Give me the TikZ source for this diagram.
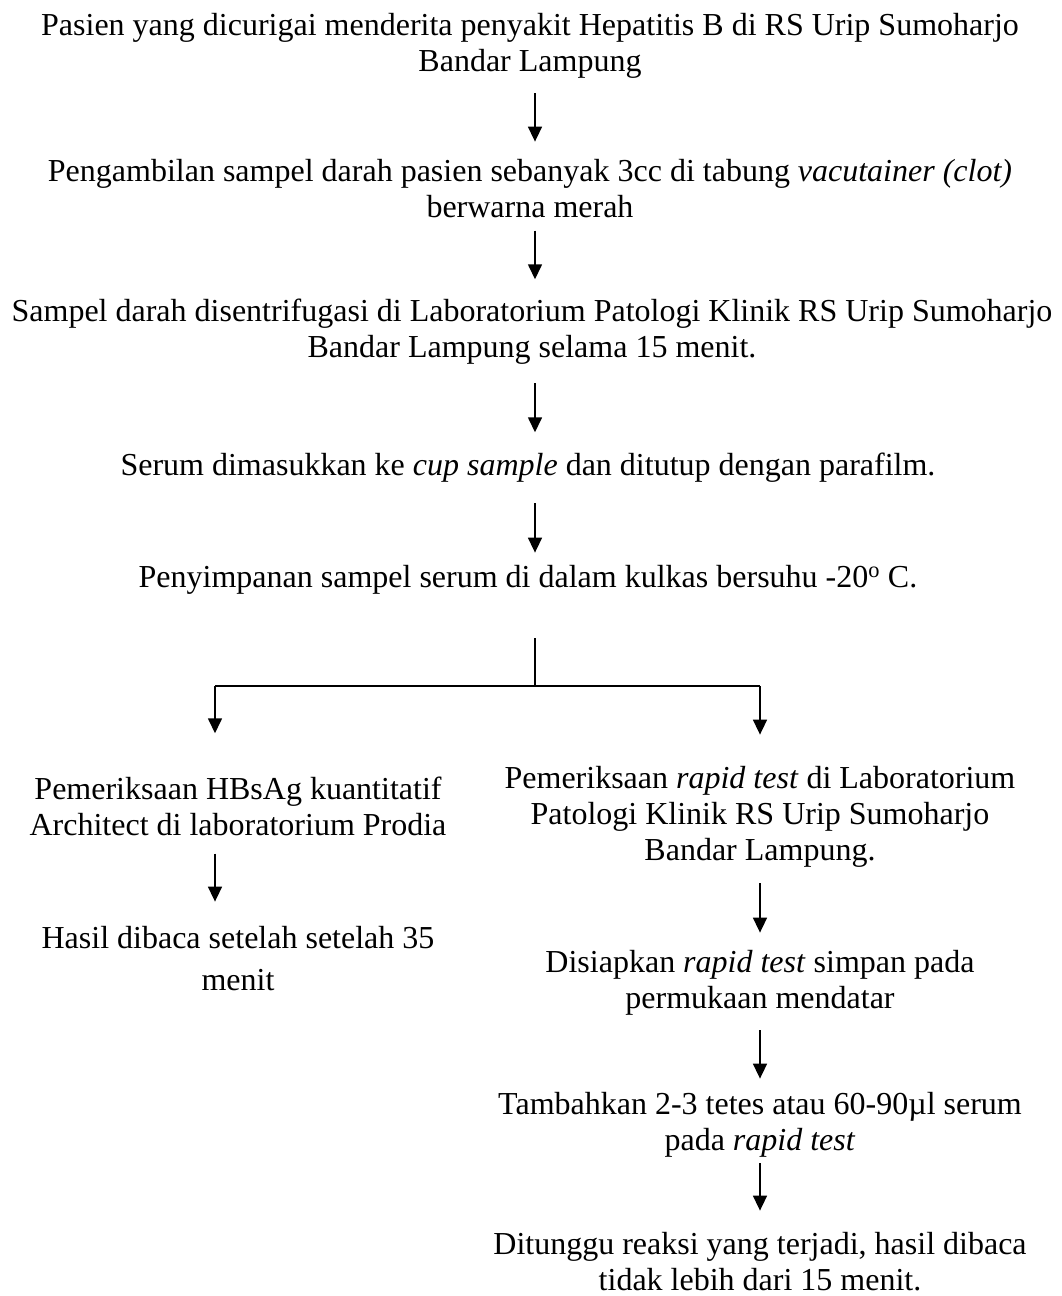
\documentclass[tikz,border=0pt]{standalone}
\usepackage{fontspec}
\setmainfont{Liberation Serif}
\usetikzlibrary{arrows.meta}
\begin{document}
\begin{tikzpicture}[x=1pt,y=-1pt,
  txt/.style={align=center,inner sep=0pt,anchor=base,font=\fontsize{32}{36}\selectfont},
  ln/.style={line width=1.6pt,black},
  arr/.style={ln,-{Triangle[length=15pt,width=14pt]}}]
\useasboundingbox (0,0) rectangle (1062,1296);
% top column (positions = baseline of the last line)
\node[txt] (t1) at (530,71) {Pasien yang dicurigai menderita penyakit Hepatitis B di RS Urip Sumoharjo\\Bandar Lampung};
\node[txt] (t2) at (530,217) {Pengambilan sampel darah pasien sebanyak 3cc di tabung \textit{vacutainer (clot)}\\berwarna merah};
\node[txt] (t3) at (532,357) {Sampel darah disentrifugasi di Laboratorium Patologi Klinik RS Urip Sumoharjo\\Bandar Lampung selama 15 menit.};
\node[txt] (t4) at (528,475) {Serum dimasukkan ke \textit{cup sample} dan ditutup dengan parafilm.};
\node[txt] (t5) at (528,587) {Penyimpanan sampel serum di dalam kulkas bersuhu -20\textsuperscript{o} C.};
% left column
\node[txt] (l1) at (238,835) {Pemeriksaan HBsAg kuantitatif\\Architect di laboratorium Prodia};
\node[txt,font=\fontsize{32}{42}\selectfont] (l2) at (238,990) {Hasil dibaca setelah setelah 35\\menit};
% right column
\node[txt] (r1) at (760,860) {Pemeriksaan \textit{rapid test} di Laboratorium\\Patologi Klinik RS Urip Sumoharjo\\Bandar Lampung.};
\node[txt] (r2) at (760,1008) {Disiapkan \textit{rapid test} simpan pada\\permukaan mendatar};
\node[txt] (r3) at (760,1150) {Tambahkan 2-3 tetes atau 60-90µl serum\\pada \textit{rapid test}};
\node[txt] (r4) at (760,1290) {Ditunggu reaksi yang terjadi, hasil dibaca\\tidak lebih dari 15 menit.};
% connector columns
\coordinate (ax) at (535,0);
\coordinate (j) at (535,686);
\coordinate (jl) at (215,686);
\coordinate (jr) at (760,686);
% arrows
\draw[arr,shorten <=15pt,shorten >=17pt] (t1.south -| ax) -- (t2.north -| ax);
\draw[arr,shorten <=13pt,shorten >=19pt] (t2.south -| ax) -- (t3.north -| ax);
\draw[arr,shorten <=19pt,shorten >=20pt] (t3.south -| ax) -- (t4.north -| ax);
\draw[arr,shorten <=21pt,shorten >=12pt] (t4.south -| ax) -- (t5.north -| ax);
\draw[ln,shorten <=44pt] (t5.south -| j) -- (j);
\draw[ln] (jl) -- (jr);
\draw[arr,shorten >=43pt] (jl) -- (l1.north -| jl);
\draw[arr,shorten >=31pt] (jr) -- (r1.north -| jr);
\draw[arr,shorten <=18pt,shorten >=24pt] (l1.south -| jl) -- (l2.north -| jl);
\draw[arr,shorten <=16pt,shorten >=17pt] (r1.south -| jr) -- (r2.north -| jr);
\draw[arr,shorten <=15pt,shorten >=13pt] (r2.south -| jr) -- (r3.north -| jr);
\draw[arr,shorten <=6pt,shorten >=21pt] (r3.south -| jr) -- (r4.north -| jr);
\end{tikzpicture}
\end{document}
